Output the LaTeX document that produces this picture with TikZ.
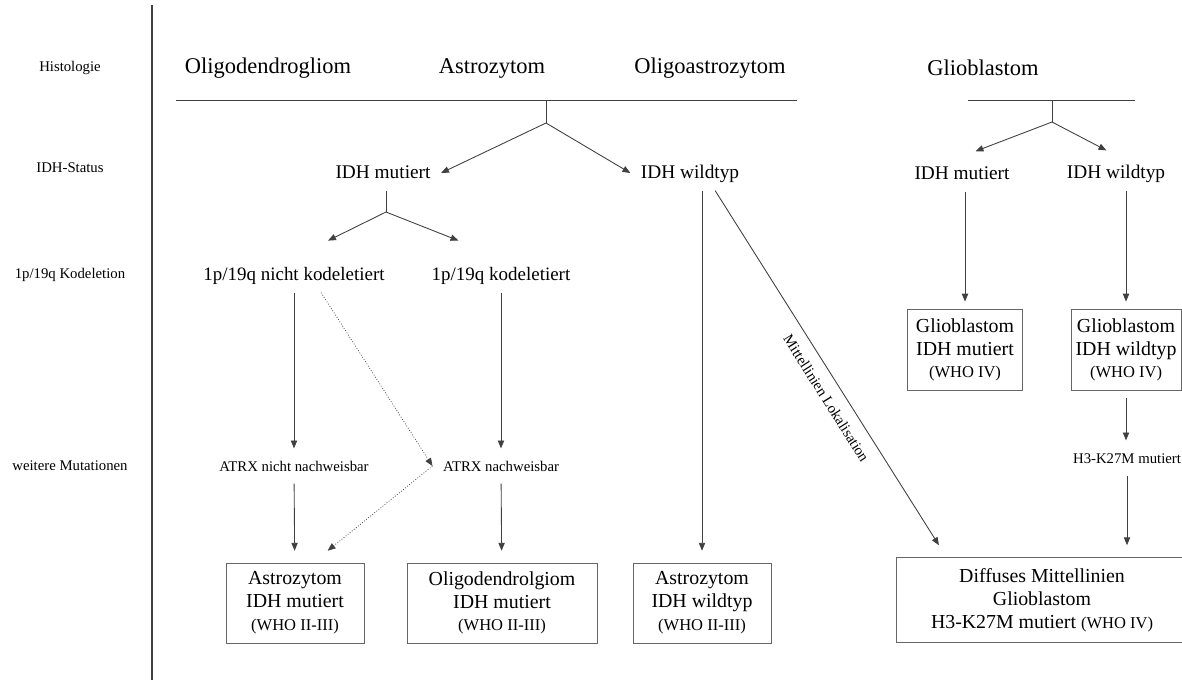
\documentclass[tikz,border=0pt]{standalone}
\usepackage{fontspec}
\setmainfont{Liberation Serif}
\usepackage{tikz}
\usetikzlibrary{arrows.meta,calc}

\newcommand{\whofont}{\fontsize{9.4}{13}\selectfont}

\tikzset{
  >={Triangle[length=4.5pt,width=3.6pt]},
  side/.style={font=\fontsize{8.4}{10}\selectfont},
  head/.style={font=\fontsize{12.8}{15}\selectfont},
  lvl/.style={font=\fontsize{11}{13}\selectfont, text height=1.5ex, text depth=.25ex, inner sep=3pt, outer sep=3pt},
  minor/.style={font=\fontsize{8.4}{10}\selectfont, text height=1.5ex, text depth=.25ex, inner sep=3pt, outer sep=3pt},
  result/.style={draw=black!60, line width=0.5pt, align=center, font=\fontsize{11.3}{13}\selectfont, minimum height=1.6cm, inner sep=2pt, outer sep=7pt},
  conn/.style={draw=black!75, line width=0.5pt},
  maybe/.style={conn, densely dotted, line width=0.4pt}
}

\begin{document}
\begin{tikzpicture}[x=0.02cm, y=-0.02cm]
	  \useasboundingbox (0,0) rectangle (1182,680);

	  % Nodes
	  \node[side] (lhist) at (70,68) {Histologie};
	  \node[side] (lidh) at (70,168) {IDH-Status};
	  \node[side] (lkodel) at (70,275) {1p/19q Kodeletion};
	  \node[side] (lmut) at (70,466) {weitere Mutationen};

	  \node[head] (oligo) at (268,68) {Oligodendrogliom};
	  \node[head] (astro) at (492,68) {Astrozytom};
	  \node[head] (oligoastro) at (710,68) {Oligoastrozytom};
	  \node[head] (gbm) at (983,68) {Glioblastom};

	  \node[lvl] (idhmut) at (383,173) {IDH mutiert};
	  \node[lvl] (idhwt) at (690,173) {IDH wildtyp};
	  \node[lvl] (gidhmut) at (962,174) {IDH mutiert};
	  \node[lvl] (gidhwt) at (1116,173) {IDH wildtyp};

	  \node[lvl, font=\fontsize{10.8}{13}\selectfont] (nonkodel) at (294,275) {1p/19q nicht kodeletiert};
	  \node[lvl, font=\fontsize{10.8}{13}\selectfont] (kodel) at (501,275) {1p/19q kodeletiert};

	  \node[minor] (atrxneg) at (294,466) {ATRX nicht nachweisbar};
	  \node[minor] (atrxpos) at (501,466) {ATRX nachweisbar};
	  \node[minor] (h3k) at (1127,458) {H3-K27M mutiert};

	  \node[result, minimum width=2.76cm] (astromut) at (295,603) {Astrozytom\\IDH mutiert\\{\whofont (WHO II-III)}};
	  \node[result, minimum width=3.8cm] (oligomut) at (502,603) {Oligodendrolgiom\\IDH mutiert\\{\whofont (WHO II-III)}};
	  \node[result, minimum width=2.76cm] (astrowt) at (702,603) {Astrozytom\\IDH wildtyp\\{\whofont (WHO II-III)}};
	  \node[result, minimum width=2.3cm, minimum height=1.62cm, outer sep=4.5pt] (gbmmut) at (965,350) {Glioblastom\\IDH mutiert\\{\whofont (WHO IV)}};
	  \node[result, minimum width=2.2cm, minimum height=1.62cm, outer sep=4.5pt] (gbmwt) at (1126,350) {Glioblastom\\IDH wildtyp\\{\whofont (WHO IV)}};
	  \node[result, minimum width=5.84cm, minimum height=1.7cm] (dmg) at (1042,600) {Diffuses Mittellinien\\Glioblastom\\H3-K27M mutiert {\whofont (WHO IV)}};

	  % Lines
	  \coordinate (septop) at (152,5);
	  \coordinate (sepbot) at (152,680);
	  \coordinate (hl) at (176,100);
	  \coordinate (hr) at (797,100);
	  \coordinate (gl) at (968,100);
	  \coordinate (gr) at (1135,100);
	  \coordinate (stem1) at (546,100);
	  \coordinate (split1) at (546,123);
	  \coordinate (split2) at (386,212);
	  \coordinate (stem3) at (1052,100);
	  \coordinate (split3) at (1052,122);

	  \draw[conn, line width=0.6pt] (septop) -- (sepbot); % column of row labels
	  \draw[conn] (hl) -- (hr);
	  \draw[conn] (gl) -- (gr);
	  \draw[conn] (stem1) -- (split1);
	  \draw[conn] (stem3) -- (split3);
	  \draw[conn] (idhmut.south -| split2) -- (split2);

	  % Arrows
	  \draw[conn, ->] (split1) -- (idhmut.east);
	  \draw[conn, ->] (split1) -- (idhwt.west);
	  \draw[conn, ->] (split3) -- ($(split3)!0.85!(gidhmut.north)$);
	  \draw[conn, ->] (split3) -- ($(split3)!0.85!(gidhwt.north)$);
	  \draw[conn, ->] (split2) -- ($(split2)!0.63!(nonkodel.north)$);
	  \draw[conn, ->] (split2) -- ($(split2)!0.63!(kodel.north)$);

	  \draw[conn, ->] (nonkodel) -- (atrxneg);
	  \draw[conn, ->] (atrxneg) -- (astromut);
	  \draw[maybe, ->] (nonkodel.-33) -- (atrxpos.west); % dotted
	  \draw[maybe, ->] (atrxpos.west) -- (astromut.58); % dotted
	  \draw[conn, ->] (kodel) -- (atrxpos);
	  \draw[conn, ->] (atrxpos) -- (oligomut);

	  \draw[conn, ->] (astrowt |- idhwt.south) -- (astrowt);
	  \draw[conn, ->] (idhwt.-35) -- (dmg.152.8) node[pos=0.56, sloped, below=3pt, font=\fontsize{8.4}{10}\selectfont] {Mittellinien Lokalisation};

	  \draw[conn, ->] (gbmmut |- gidhmut.south) -- (gbmmut);
	  \draw[conn, ->] (gbmwt |- gidhwt.south) -- (gbmwt);
	  \draw[conn, ->] (gbmwt) -- (gbmwt |- h3k.north);
	  \draw[conn, ->] (h3k) -- (h3k |- dmg.north);
	\end{tikzpicture}
\end{document}
